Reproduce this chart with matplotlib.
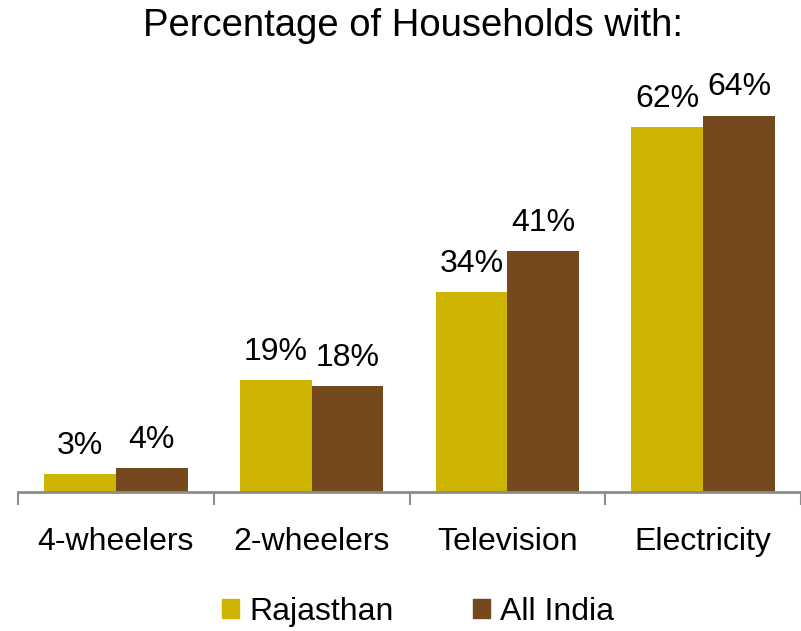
import matplotlib
matplotlib.use('Agg')
import matplotlib.pyplot as plt
from matplotlib.patches import Patch
import numpy as np

categories = ['4-wheelers', '2-wheelers', 'Television', 'Electricity']
rajasthan = [3, 19, 34, 62]
all_india = [4, 18, 41, 64]
series_names = ['Rajasthan', 'All India']
colors = ['#CCB400', '#74491E']

plt.rcParams['font.family'] = ['Liberation Sans', 'DejaVu Sans']

fig = plt.figure(figsize=(8.01, 6.31), dpi=100)
ax = fig.add_axes([18 / 801, 0.2203, 783 / 801, 0.6523])

x = np.arange(len(categories))
w = 0.367
b1 = ax.bar(x - w / 2, rajasthan, w, color=colors[0])
b2 = ax.bar(x + w / 2, all_india, w, color=colors[1])

for bars, vals in ((b1, rajasthan), (b2, all_india)):
    for bar, v in zip(bars, vals):
        ax.annotate(f'{v}%', (bar.get_x() + bar.get_width() / 2, v),
                    xytext=(0, 9.5), textcoords='offset points',
                    ha='center', va='bottom', fontsize=23)

ax.set_xlim(-0.5, -0.5 + 783 / 197.3)
ax.set_ylim(0, 70)
ax.set_yticks([])
for s in ['left', 'right', 'top']:
    ax.spines[s].set_visible(False)
ax.spines['bottom'].set_color('#8c8c8c')
ax.spines['bottom'].set_linewidth(2)

ax.set_xticks(np.arange(len(categories) + 1) - 0.5)
ax.set_xticklabels([])
ax.tick_params(axis='x', which='major', length=9, width=1.5, color='#8c8c8c')
ax.set_xticks(x, minor=True)
ax.set_xticklabels(categories, minor=True, fontsize=23)
ax.tick_params(axis='x', which='minor', length=0, pad=25)

fig.text(413 / 801, 1 - 26 / 631, 'Percentage of Households with:',
         ha='center', va='center', fontsize=27.5)

handles = [Patch(color=c, label=n) for c, n in zip(colors, series_names)]
fig.legend(handles=handles, loc='center', bbox_to_anchor=(418 / 801, 1 - 612 / 631),
           ncol=2, frameon=False, fontsize=23, handlelength=0.53, handleheight=0.53,
           handletextpad=0.3, columnspacing=2.5)

fig.savefig('out.png', dpi=100)
